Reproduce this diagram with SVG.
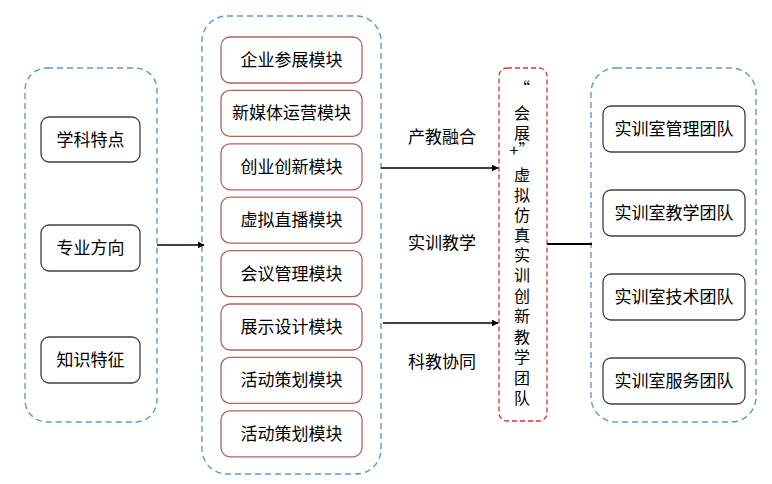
<svg xmlns="http://www.w3.org/2000/svg" width="772" height="484" viewBox="0 0 772 484">
<defs>
<marker id="arr" viewBox="0 0 10 10" refX="9" refY="5" markerWidth="7" markerHeight="7" orient="auto" markerUnits="userSpaceOnUse"><path d="M0,0 L10,5 L0,10 z" fill="#000"/></marker>
<style>
.cont{fill:none;stroke:#5b9bd5;stroke-width:1.4;stroke-dasharray:6,4}
.red{fill:none;stroke:#e03030;stroke-width:1.3;stroke-dasharray:5,3}
.nd{fill:#fff;stroke:#404040;stroke-width:1.3}
.md{fill:#fff;stroke:#b8605a;stroke-width:1.3}
text{font-family:"Noto Sans CJK SC","Liberation Sans",sans-serif;font-size:17px;fill:#000;text-anchor:middle}
.v{font-size:16px}
.ln{stroke:#000;stroke-width:1.5;fill:none}
</style>
</defs>
<rect id="left-container" class="cont" x="25" y="68" width="132" height="354" rx="22"/>
<rect id="mid-container" class="cont" x="202" y="16" width="179" height="458" rx="25"/>
<rect id="right-container" class="cont" x="591" y="68" width="165" height="354" rx="25"/>
<g id="left1"><rect class="nd" x="41" y="117" width="99" height="45" rx="8"/><text x="90.5" y="145.5">学科特点</text></g>
<g id="left2"><rect class="nd" x="41" y="225" width="99" height="46" rx="8"/><text x="90.5" y="254">专业方向</text></g>
<g id="left3"><rect class="nd" x="41" y="337" width="99" height="46" rx="8"/><text x="90.5" y="366">知识特征</text></g>
<g id="m1"><rect class="md" x="221" y="37" width="141" height="46" rx="9"/><text x="291.5" y="66">企业参展模块</text></g>
<g id="m2"><rect class="md" x="221" y="90.4" width="141" height="46" rx="9"/><text x="291.5" y="119.4">新媒体运营模块</text></g>
<g id="m3"><rect class="md" x="221" y="143.8" width="141" height="46" rx="9"/><text x="291.5" y="172.8">创业创新模块</text></g>
<g id="m4"><rect class="md" x="221" y="197.2" width="141" height="46" rx="9"/><text x="291.5" y="226.2">虚拟直播模块</text></g>
<g id="m5"><rect class="md" x="221" y="250.6" width="141" height="46" rx="9"/><text x="291.5" y="279.6">会议管理模块</text></g>
<g id="m6"><rect class="md" x="221" y="304" width="141" height="46" rx="9"/><text x="291.5" y="333">展示设计模块</text></g>
<g id="m7"><rect class="md" x="221" y="357.4" width="141" height="46" rx="9"/><text x="291.5" y="386.4">活动策划模块</text></g>
<g id="m8"><rect class="md" x="221" y="410.8" width="141" height="46" rx="9"/><text x="291.5" y="439.8">活动策划模块</text></g>
<g id="team"><rect class="red" x="499" y="68" width="48" height="353" rx="8"/>
<text class="v" x="522" y="94">“</text>
<text class="v" x="522" y="119">会</text>
<text class="v" x="522" y="139">展</text>
<text class="v" x="522" y="156">+”</text>
<text class="v" x="522" y="181">虚</text>
<text class="v" x="522" y="201">拟</text>
<text class="v" x="522" y="221">仿</text>
<text class="v" x="522" y="241">真</text>
<text class="v" x="522" y="261">实</text>
<text class="v" x="522" y="281">训</text>
<text class="v" x="522" y="302">创</text>
<text class="v" x="522" y="322">新</text>
<text class="v" x="522" y="343">教</text>
<text class="v" x="522" y="363">学</text>
<text class="v" x="522" y="384">团</text>
<text class="v" x="522" y="404">队</text>
</g>
<g id="r1"><rect class="nd" x="603" y="106" width="142" height="46" rx="8"/><text x="674" y="135">实训室管理团队</text></g>
<g id="r2"><rect class="nd" x="603" y="190" width="142" height="46" rx="8"/><text x="674" y="219">实训室教学团队</text></g>
<g id="r3"><rect class="nd" x="603" y="274" width="142" height="46" rx="8"/><text x="674" y="303">实训室技术团队</text></g>
<g id="r4"><rect class="nd" x="603" y="358" width="142" height="46" rx="8"/><text x="674" y="387">实训室服务团队</text></g>
<g id="connectors">
<line class="ln" x1="157" y1="245" x2="204" y2="245" marker-end="url(#arr)"/>
<line class="ln" x1="381" y1="168" x2="498" y2="168" marker-end="url(#arr)"/>
<line class="ln" x1="383" y1="323" x2="498" y2="323" marker-end="url(#arr)"/>
<line x1="547" y1="244" x2="592" y2="244" stroke="#000" stroke-width="2"/>
<text x="442" y="143">产教融合</text>
<text x="442" y="249">实训教学</text>
<text x="442" y="368">科教协同</text>
</g>
</svg>
